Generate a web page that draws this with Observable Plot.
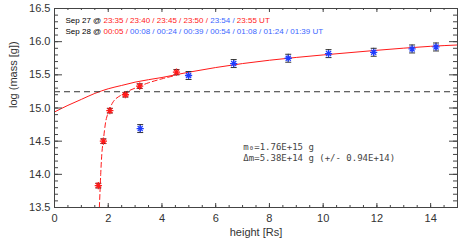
<!DOCTYPE html>
<html><head><meta charset="utf-8">
<script src="https://cdn.jsdelivr.net/npm/d3@7"></script>
<script src="https://cdn.jsdelivr.net/npm/@observablehq/plot@0.6"></script>
<style>body{margin:0;background:#fff}</style>
</head><body><div id="chart"></div>
<script>
// ---- data ----
const redHeight   = [1.63, 1.82, 2.06, 2.64, 3.17, 4.54];
const redLogMass  = [13.83, 14.50, 14.96, 15.20, 15.33, 15.54];
const redErr      = [0.035, 0.035, 0.035, 0.035, 0.035, 0.04];

const blueHeight  = [3.19, 4.99, 6.67, 8.70, 10.20, 11.88, 13.31, 14.20];
const blueLogMass = [14.69, 15.49, 15.67, 15.75, 15.82, 15.84, 15.89, 15.92];
const blueErr     = [0.06, 0.06, 0.06, 0.06, 0.06, 0.06, 0.06, 0.06];

// solid fit curve
const fitHeight  = [0, 0.5, 1, 1.5, 2, 2.5, 3, 4, 5, 6, 7, 8, 10, 12, 14, 15];
const fitLogMass = [14.94, 15.04, 15.13, 15.22, 15.29, 15.34, 15.39, 15.46, 15.54, 15.61, 15.67, 15.72, 15.80, 15.87, 15.93, 15.95];

// dashed fit curve
const dashHeight  = [1.67, 1.69, 1.72, 1.76, 1.82, 1.90, 2.0, 2.15, 2.5, 3.0, 3.5, 4.0, 4.5];
const dashLogMass = [13.5, 13.7, 14.0, 14.3, 14.52, 14.78, 14.93, 15.07, 15.20, 15.30, 15.38, 15.44, 15.49];

const m0Log = 15.245; // log10(1.76E+15)

const xTicks = [0, 2, 4, 6, 8, 10, 12, 14];
const yTicks = [13.5, 14.0, 14.5, 15.0, 15.5, 16.0, 16.5];

const sep27Times  = ["23:35", "23:40", "23:45", "23:50", "23:54", "23:55"];
const sep27Colors = ["red", "red", "red", "red", "blue", "red"];
const sep28Times  = ["00:05", "00:08", "00:24", "00:39", "00:54", "01:08", "01:24", "01:39"];
const sep28Colors = ["red", "blue", "blue", "blue", "blue", "blue", "blue", "blue"];

const annotLines = ["m\u2080=1.76E+15 g", "\u0394m=5.38E+14 g (+/- 0.94E+14)"];

// ---- build ----
const RED = "#ff1a1a", BLUE = "#1f3cff", TXT_BLUE = "#3a66ff", AX = "#444";
const points = [
  ...redHeight.map((h, i) => ({h, m: redLogMass[i], e: redErr[i], c: RED})),
  ...blueHeight.map((h, i) => ({h, m: blueLogMass[i], e: blueErr[i], c: BLUE}))
];
const fit = fitHeight.map((h, i) => ({h, m: fitLogMass[i]}));
const dash = dashHeight.map((h, i) => ({h, m: dashLogMass[i]}));

const width = 463, height = 246, mL = 54, mR = 6, mT = 8, mB = 39;
const W = width - mL - mR, H = height - mT - mB;

const xMinor = d3.range(0, 15.001, 0.5);
const yMinor = d3.range(135, 165.001, 1).map(v => v / 10);

const star = {draw(ctx, size) {
  const r = Math.sqrt(size / Math.PI), d = r * Math.SQRT1_2;
  ctx.moveTo(-r, 0); ctx.lineTo(r, 0);
  ctx.moveTo(0, -r); ctx.lineTo(0, r);
  ctx.moveTo(-d, -d); ctx.lineTo(d, d);
  ctx.moveTo(-d, d); ctx.lineTo(d, -d);
}};
const cap = {draw(ctx, size) {
  const r = Math.sqrt(size / Math.PI);
  ctx.moveTo(-r, 0); ctx.lineTo(r, 0);
}};

const sep27Text = "Sep 27 @ " + sep27Times.join(" / ") + " UT";
const sep28Text = "Sep 28 @ " + sep28Times.join(" / ") + " UT";

const chart = Plot.plot({
  width, height, marginLeft: mL, marginRight: mR, marginTop: mT, marginBottom: mB,
  x: {domain: [0, 15]},
  y: {domain: [13.5, 16.5]},
  style: {fontFamily: "'Liberation Sans', Arial, sans-serif", background: "#fff", color: "#333"},
  marks: [
    Plot.line(fit, {x: "h", y: "m", stroke: RED, strokeWidth: 1, curve: "monotone-x"}),
    Plot.line(dash, {x: "h", y: "m", stroke: RED, strokeWidth: 1, strokeDasharray: "5,3", curve: "monotone-x", clip: true}),
    Plot.ruleY([m0Log], {stroke: "#333", strokeDasharray: "6,4", strokeWidth: 1}),
    // error bars
    Plot.ruleX(points, {x: "h", y1: d => d.m - d.e, y2: d => d.m + d.e, stroke: "#333", strokeWidth: 1}),
    Plot.dot(points, {x: "h", y: d => d.m + d.e, symbol: cap, r: 3, stroke: "#333", strokeWidth: 1}),
    Plot.dot(points, {x: "h", y: d => d.m - d.e, symbol: cap, r: 3, stroke: "#333", strokeWidth: 1}),
    // markers
    Plot.dot(points, {x: "h", y: "m", symbol: star, r: 3.6, stroke: "c", strokeWidth: 1.3}),
    // frame and inward ticks
    Plot.frame({stroke: AX, strokeWidth: 1}),
    Plot.ruleX(xMinor, {x: d => d, insetTop: H - 2, stroke: AX}),
    Plot.ruleX(xMinor, {x: d => d, insetBottom: H - 2, stroke: AX}),
    Plot.ruleX(xTicks, {x: d => d, insetTop: H - 4, stroke: AX}),
    Plot.ruleX(xTicks, {x: d => d, insetBottom: H - 4, stroke: AX}),
    Plot.ruleY(yMinor, {y: d => d, insetRight: W - 4, stroke: AX}),
    Plot.ruleY(yMinor, {y: d => d, insetLeft: W - 4, stroke: AX}),
    Plot.ruleY(yTicks, {y: d => d, insetRight: W - 8, stroke: AX}),
    Plot.ruleY(yTicks, {y: d => d, insetLeft: W - 8, stroke: AX}),
    // axes labels
    Plot.axisX({ticks: xTicks, tickSize: 0, tickPadding: 7, fontSize: 11, label: null, fill: "#333"}),
    Plot.axisY({ticks: yTicks, tickSize: 0, tickPadding: 4, fontSize: 11, label: null, fill: "#333", tickFormat: d3.format(".1f")}),
    Plot.text(["log (mass [g])"], {frameAnchor: "left", dx: -41, rotate: -90, fontSize: 11, fill: "#333"}),
    Plot.text(["height [Rs]"], {frameAnchor: "bottom", dy: 28, fontSize: 11, fill: "#333"}),
    // header lines
    Plot.text([sep27Text, sep28Text], {x: [0.41, 0.41], y: [16.32, 16.15], textAnchor: "start", fontSize: 8, fill: "#000"}),
    // annotation
    Plot.text(annotLines, {x: [7.03, 7.03], y: [14.41, 14.24], textAnchor: "start", fontSize: 9, fontFamily: "'DejaVu Sans Mono', monospace", fill: "#444"})
  ]
});
document.getElementById("chart").appendChild(chart);

// colour the time stamps with tspans
function colorize(fullText, label, times, colors) {
  d3.select(chart).selectAll("text").filter(function() { return this.textContent === fullText; }).each(function() {
    const t = d3.select(this);
    t.text(null);
    t.append("tspan").attr("fill", "#000").text(label);
    times.forEach((tm, i) => {
      const col = colors[i] === "red" ? RED : TXT_BLUE;
      t.append("tspan").attr("fill", col).text(tm + (i < times.length - 1 ? " / " : " "));
    });
    t.append("tspan").attr("fill", colors[colors.length - 1] === "red" ? RED : TXT_BLUE).text("UT");
  });
}
colorize(sep27Text, "Sep 27 @ ", sep27Times, sep27Colors);
colorize(sep28Text, "Sep 28 @ ", sep28Times, sep28Colors);
</script>
</body></html>
